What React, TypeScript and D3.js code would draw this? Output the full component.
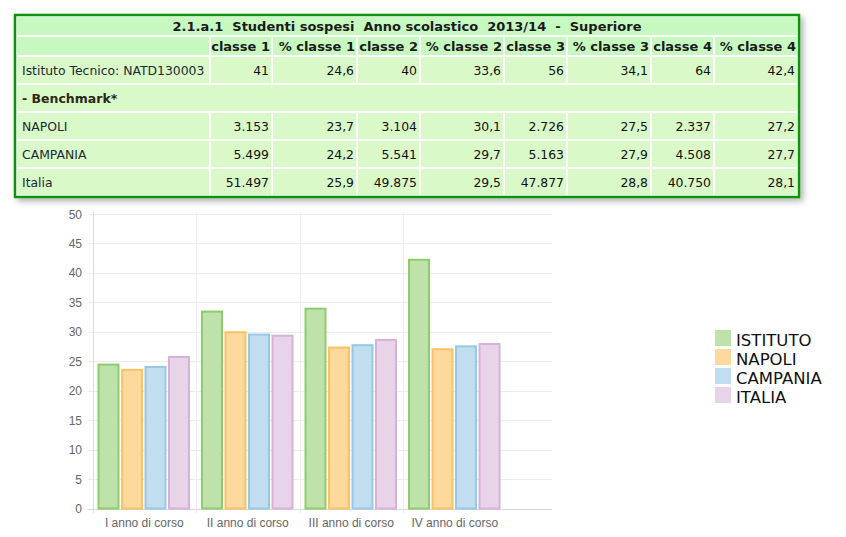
import React from "react";
import * as d3 from "d3";

// ---------- DATA ----------
const tableTitle = "2.1.a.1  Studenti sospesi  Anno scolastico  2013/14  -  Superiore";
const tableHeaders = ["classe 1", "% classe 1", "classe 2", "% classe 2", "classe 3", "% classe 3", "classe 4", "% classe 4"];
const rowIstitutoLabel = "Istituto Tecnico: NATD130003";
const rowIstituto = ["41", "24,6", "40", "33,6", "56", "34,1", "64", "42,4"];
const benchmarkLabel = "- Benchmark*";
const rowNapoliLabel = "NAPOLI";
const rowNapoli = ["3.153", "23,7", "3.104", "30,1", "2.726", "27,5", "2.337", "27,2"];
const rowCampaniaLabel = "CAMPANIA";
const rowCampania = ["5.499", "24,2", "5.541", "29,7", "5.163", "27,9", "4.508", "27,7"];
const rowItaliaLabel = "Italia";
const rowItalia = ["51.497", "25,9", "49.875", "29,5", "47.877", "28,8", "40.750", "28,1"];

const categories = ["I anno di corso", "II anno di corso", "III anno di corso", "IV anno di corso"];
const seriesNames = ["ISTITUTO", "NAPOLI", "CAMPANIA", "ITALIA"];
const istituto = [24.6, 33.6, 34.1, 42.4];
const napoli = [23.7, 30.1, 27.5, 27.2];
const campania = [24.2, 29.7, 27.9, 27.7];
const italia = [25.9, 29.5, 28.8, 28.1];
const yTicks = [0, 5, 10, 15, 20, 25, 30, 35, 40, 45, 50];

// ---------- STYLE ----------
const fills = ["#bfe2aa", "#fed99e", "#c0def0", "#e8d4e8"];
const strokes = ["#8ecb6b", "#fcc162", "#97c8e5", "#d8b0d9"];

const colX = [17, 211, 273, 358, 421, 505, 568, 652, 715];
const colW = [192, 60, 83, 61, 82, 61, 82, 61, 82];
const tableLeft = 17;
const tableRight = 797;
const headBg = "#c6f8bf";
const dataBg = "#daf9c8";
const tFont = "'DejaVu Sans', Verdana, sans-serif";

export default function App() {
  const series = [istituto, napoli, campania, italia];
  const y = d3.scaleLinear().domain([0, 50]).range([508.5, 214]);
  const x0 = d3.scaleBand<string>().domain(categories).range([92.5, 92.5 + 4 * 103.5]).paddingInner(0).paddingOuter(0);
  const x1 = d3.scaleBand<string>().domain(seriesNames).range([5, x0.bandwidth() - 6]).paddingInner(0.065);
  const gridRight = 552;
  const axisFont = "'Liberation Sans', Arial, sans-serif";

  const dataRows = [
    { label: rowIstitutoLabel, vals: rowIstituto },
    { label: benchmarkLabel, vals: null },
    { label: rowNapoliLabel, vals: rowNapoli },
    { label: rowCampaniaLabel, vals: rowCampania },
    { label: rowItaliaLabel, vals: rowItalia },
  ];

  return (
    <svg width={846} height={537} style={{ position: "absolute", left: 0, top: 0, background: "#fff" }}>
      <defs>
        <filter id="sh" x="-5%" y="-10%" width="115%" height="130%">
          <feDropShadow dx="3" dy="3" stdDeviation="3" floodColor="#000" floodOpacity="0.3" />
        </filter>
      </defs>
      {/* Table */}
      <g>
        <rect x={15} y={15} width={784} height={182} fill="#fff" stroke="#0b930b" strokeWidth={2.5} filter="url(#sh)" />
        <rect x={tableLeft} y={17} width={tableRight - tableLeft} height={18} fill={headBg} />
        <text x={(tableLeft + tableRight) / 2} y={31} textAnchor="middle" fontFamily={tFont} fontSize={13} fontWeight="bold" fill="#1a1a1a" style={{ whiteSpace: "pre" }}>
          {tableTitle}
        </text>
        {colX.map((cx, i) => (
          <rect key={"h" + i} x={cx} y={37} width={colW[i]} height={18} fill={headBg} />
        ))}
        {tableHeaders.map((h, i) => (
          <text key={"ht" + i} x={colX[i + 1] + colW[i + 1] - 1} y={51} textAnchor="end" fontFamily={tFont} fontSize={13} fontWeight="bold" fill="#1a1a1a">
            {h}
          </text>
        ))}
        {dataRows.map((r, ri) => {
          const ry = 57 + ri * 28;
          const cy = ry + 17.5;
          if (!r.vals) {
            return (
              <g key={"r" + ri}>
                <rect x={tableLeft} y={ry} width={tableRight - tableLeft} height={26} fill={dataBg} />
                <text x={22} y={cy} fontFamily={tFont} fontSize={12.5} fontWeight="bold" fill="#2a2a10">
                  {r.label}
                </text>
              </g>
            );
          }
          return (
            <g key={"r" + ri}>
              {colX.map((cx, i) => (
                <rect key={i} x={cx} y={ry} width={colW[i]} height={26} fill={dataBg} />
              ))}
              <text x={22} y={cy} fontFamily={tFont} fontSize={12.4} fill="#1b2b33">
                {r.label}
              </text>
              {r.vals.map((v, i) => (
                <text key={"v" + i} x={colX[i + 1] + colW[i + 1] - 2} y={cy} textAnchor="end" fontFamily={tFont} fontSize={12.4} fill="#111">
                  {v}
                </text>
              ))}
            </g>
          );
        })}
      </g>

      {/* Chart grid */}
      <g>
        {yTicks.map((t) => (
          <g key={"yt" + t}>
            <line x1={87.5} x2={gridRight} y1={Math.round(y(t)) + 0.5} y2={Math.round(y(t)) + 0.5} stroke={t === 0 ? "#d6d6d6" : "#ececec"} />
            <text x={82} y={y(t) + 4.5} textAnchor="end" fontFamily={axisFont} fontSize={12} fill="#666">
              {t}
            </text>
          </g>
        ))}
        {categories.map((c, i) => {
          const xx = Math.round(x0(c) as number) + 0.5;
          return (
            <line key={"vg" + i} x1={xx} x2={xx} y1={211.5} y2={513} stroke={i === 0 ? "#dedede" : "#ececec"} />
          );
        })}
        {categories.map((c) => (
          <text key={"xl" + c} x={(x0(c) as number) + x0.bandwidth() / 2} y={527} textAnchor="middle" fontFamily={axisFont} fontSize={12} fill="#666">
            {c}
          </text>
        ))}
      </g>

      {/* Bars */}
      <g>
        {categories.map((c, ci) =>
          seriesNames.map((s, si) => {
            const v = series[si][ci];
            const bx = (x0(c) as number) + (x1(s) as number);
            const bw = x1.bandwidth();
            return (
              <rect
                key={c + s}
                x={bx + 1}
                y={y(v) + 1}
                width={bw - 2}
                height={y(0) - y(v) - 1}
                fill={fills[si]}
                stroke={strokes[si]}
                strokeWidth={2}
              />
            );
          })
        )}
      </g>

      {/* Legend */}
      <g>
        {seriesNames.map((s, i) => (
          <g key={"lg" + s}>
            <rect x={715} y={330 + i * 19} width={16} height={16} fill={fills[i]} />
            <text x={736} y={345.5 + i * 19} fontFamily={tFont} fontSize={16.5} fill="#111">
              {s}
            </text>
          </g>
        ))}
      </g>
    </svg>
  );
}
